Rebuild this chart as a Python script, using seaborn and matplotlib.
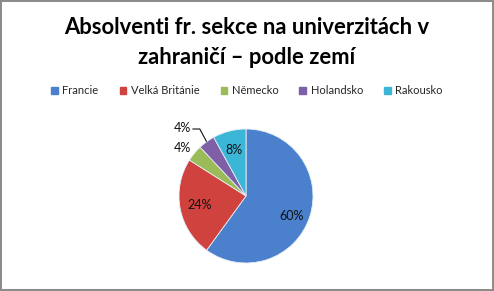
import matplotlib
matplotlib.use("Agg")
import matplotlib.pyplot as plt
import seaborn as sns
import numpy as np
from matplotlib.patches import Patch

categories = ["Francie", "Velká Británie", "Německo", "Holandsko", "Rakousko"]
values = [60, 24, 4, 4, 8]
labels = ["60%", "24%", "4%", "4%", "8%"]
colors = ["#4A80CC", "#CF423E", "#9BBB59", "#7E5FA8", "#3BB6D6"]

sns.set_theme(style="white")
plt.rcParams['font.family'] = ['Lato', 'DejaVu Sans']

fig = plt.figure(figsize=(4.94, 2.91), dpi=100)
fig.patch.set_facecolor("white")
fig.patch.set_edgecolor("#8C8C8C")
fig.patch.set_linewidth(1.5)

W, H = 494, 291
cx, cy, r = 246, 196, 67
lim = 1.5
half = lim * r
ax = fig.add_axes([(cx - half) / W, (H - cy - half) / H, 2 * half / W, 2 * half / H])

wedges, _ = ax.pie(values, colors=colors, startangle=90, counterclock=False,
                   wedgeprops=dict(edgecolor="#E8EEF6", linewidth=0.6))
ax.set_xlim(-lim, lim)
ax.set_ylim(-lim, lim)
ax.set_aspect("equal")
ax.axis("off")

def mid(w):
    a = np.deg2rad((w.theta1 + w.theta2) / 2)
    return np.cos(a), np.sin(a)

fs = 9
for i, (w, lab) in enumerate(zip(wedges, labels)):
    x, y = mid(w)
    if i == 2:
        ax.text(-0.95, 0.72, lab, ha="center", va="center", fontsize=fs, color="#111111")
    elif i == 3:
        ly = 1.0
        ax.text(-0.82, ly + 0.02, lab, ha="right", va="center", fontsize=fs, color="#111111")
        slope = np.tan(np.deg2rad(118))
        corner_x = x + (ly - y) / slope
        ax.plot([-0.80, corner_x, x], [ly, ly, y], color="#111111", lw=0.8,
                solid_capstyle="butt", clip_on=False)
    else:
        d = 0.71
        ax.text(d * x, d * y - (0.08 if i == 0 else 0), lab, ha="center", va="center",
                fontsize=fs, color="#111111")

fig.text(0.5, 1 - 28 / H, "Absolventi fr. sekce na univerzitách v", ha="center", va="center",
         fontsize=15.8, fontweight="bold", color="#000000")
fig.text(0.5, 1 - 58 / H, "zahraničí – podle zemí", ha="center", va="center",
         fontsize=15.8, fontweight="bold", color="#000000")

handles = [Patch(facecolor=c, edgecolor=c) for c in colors]
fig.legend(handles, categories, loc="center", bbox_to_anchor=(0.5, 1 - 91 / H), ncol=5,
           frameon=False, fontsize=8, handlelength=0.6, handleheight=0.6,
           handletextpad=0.4, columnspacing=1.9, borderpad=0)

fig.savefig("out.png", dpi=100, facecolor="white", edgecolor=fig.get_edgecolor())
